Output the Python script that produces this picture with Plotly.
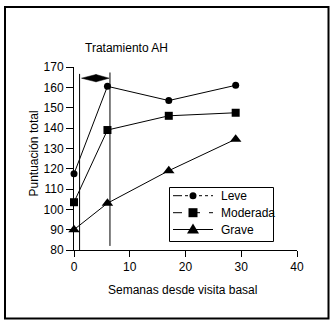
import plotly.graph_objects as go

weeks = [0, 6, 17, 29]
leve = [117.5, 160.5, 153.5, 161]
moderada = [103.5, 139, 146, 147.5]
grave = [90, 103, 119, 134.5]

series_names = ["Leve", "Moderada", "Grave"]
series_values = [leve, moderada, grave]
symbols = ["circle", "square", "triangle-up"]
marker_sizes = [7, 8, 10]

x_ticks = [0, 10, 20, 30, 40]
y_ticks = [80, 90, 100, 110, 120, 130, 140, 150, 160, 170]

# treatment window markers (weeks) and arrow
window_lines = [(1.0, 78.5, 166.6), (6.45, 82.0, 167.3)]
arrow_x = [1.35, 3.95, 6.3]
arrow_y = 164.5
arrow_half = 1.8

FONT = "Arial, Liberation Sans, sans-serif"

W, H = 333, 323
ML, MR, MT, MB = 74, 36, 67, 73
PW, PH = W - ML - MR, H - MT - MB


def px(x):
    return (x - ML) / PW


def py(y):
    return (H - MB - y) / PH


fig = go.Figure()
for name, vals, sym, ms in zip(series_names, series_values, symbols, marker_sizes):
    fig.add_trace(go.Scatter(
        x=weeks, y=vals, mode="lines+markers", name=name, showlegend=False,
        line=dict(color="black", width=1),
        marker=dict(symbol=sym, size=ms, color="black"),
        cliponaxis=False,
    ))

shapes = []
for xv, y0, y1 in window_lines:
    shapes.append(dict(type="line", xref="x", yref="y", x0=xv, x1=xv, y0=y0, y1=y1,
                       line=dict(color="black", width=1)))
xl, xm, xr = arrow_x
shapes.append(dict(type="path", xref="x", yref="y",
                   path=f"M{xl},{arrow_y} L{xm},{arrow_y + arrow_half} L{xm},{arrow_y - arrow_half} Z",
                   fillcolor="black", line=dict(color="black", width=0.5)))
shapes.append(dict(type="path", xref="x", yref="y",
                   path=f"M{xr},{arrow_y} L{xm},{arrow_y + arrow_half} L{xm},{arrow_y - arrow_half} Z",
                   fillcolor="black", line=dict(color="black", width=0.5)))
# outer frame
shapes.append(dict(type="rect", xref="paper", yref="paper",
                   x0=px(5), x1=px(328.5), y0=py(318.5), y1=py(7),
                   line=dict(color="black", width=2)))

# legend (drawn by hand to match the original spacing)
leg_box = (169.5, 273.5, 187.5, 241.5)
leg_rows = [195.7, 212.7, 229.5]
leg_x0, leg_xm, leg_x1, leg_tx = 173, 193, 213, 219
shapes.append(dict(type="rect", xref="paper", yref="paper",
                   x0=px(leg_box[0]), x1=px(leg_box[1]), y0=py(leg_box[3]), y1=py(leg_box[2]),
                   line=dict(color="black", width=1), fillcolor="white", layer="above"))
# Leve: dash-dot left, dotted right, circle
r0 = leg_rows[0]
shapes.append(dict(type="line", xref="paper", yref="paper", x0=px(leg_x0), x1=px(leg_xm), y0=py(r0), y1=py(r0),
                   line=dict(color="black", width=1, dash="dashdot")))
shapes.append(dict(type="line", xref="paper", yref="paper", x0=px(leg_xm), x1=px(leg_x1), y0=py(r0), y1=py(r0),
                   line=dict(color="black", width=1, dash="dot")))
shapes.append(dict(type="circle", xref="paper", yref="paper", x0=px(leg_xm - 3.5), x1=px(leg_xm + 3.5),
                   y0=py(r0 + 3.5), y1=py(r0 - 3.5), fillcolor="black", line=dict(color="black", width=0)))
# Moderada: dashed, square
r1 = leg_rows[1]
shapes.append(dict(type="line", xref="paper", yref="paper", x0=px(leg_x0), x1=px(leg_x1), y0=py(r1), y1=py(r1),
                   line=dict(color="black", width=1, dash="dash")))
shapes.append(dict(type="rect", xref="paper", yref="paper", x0=px(leg_xm - 4.5), x1=px(leg_xm + 4.5),
                   y0=py(r1 + 4.5), y1=py(r1 - 4.5), fillcolor="black", line=dict(color="black", width=0)))
# Grave: solid, triangle
r2 = leg_rows[2]
shapes.append(dict(type="line", xref="paper", yref="paper", x0=px(leg_x0), x1=px(leg_x1), y0=py(r2), y1=py(r2),
                   line=dict(color="black", width=1)))
shapes.append(dict(type="path", xref="paper", yref="paper",
                   path=f"M{px(leg_xm - 6)},{py(r2 + 4)} L{px(leg_xm + 6)},{py(r2 + 4)} L{px(leg_xm)},{py(r2 - 6)} Z",
                   fillcolor="black", line=dict(color="black", width=0)))

annotations = [
    dict(text="Tratamiento AH", xref="paper", yref="paper", x=px(83), y=py(48),
         xanchor="left", yanchor="middle", showarrow=False, font=dict(size=12)),
    dict(text="Semanas desde visita basal", xref="paper", yref="paper", x=px(182.5), y=py(290),
         xanchor="center", yanchor="middle", showarrow=False, font=dict(size=12)),
    dict(text="Puntuación total", xref="paper", yref="paper", x=px(33), y=py(153.5),
         xanchor="center", yanchor="middle", showarrow=False, textangle=-90, font=dict(size=12)),
]
for name, ry in zip(series_names, leg_rows):
    annotations.append(dict(text=name, xref="paper", yref="paper", x=px(leg_tx), y=py(ry),
                            xanchor="left", yanchor="middle", showarrow=False, font=dict(size=12)))

fig.update_layout(
    width=W, height=H,
    margin=dict(l=ML, r=MR, t=MT, b=MB),
    paper_bgcolor="white", plot_bgcolor="white",
    font=dict(family=FONT, size=12, color="black"),
    shapes=shapes,
    annotations=annotations,
    showlegend=False,
    xaxis=dict(range=[0, 40], tickvals=x_ticks, showgrid=False, zeroline=False,
               showline=True, linecolor="black", linewidth=1,
               ticks="outside", ticklen=6, tickcolor="black",
               tickfont=dict(size=12)),
    yaxis=dict(range=[80, 170], tickvals=y_ticks, showgrid=False, zeroline=False,
               showline=True, linecolor="black", linewidth=1,
               ticks="outside", ticklen=7, tickcolor="black",
               tickfont=dict(size=12)),
)

fig.write_html("out.html", config={"displayModeBar": False},
               post_script="document.body.style.margin='0';document.body.style.overflow='hidden';")
